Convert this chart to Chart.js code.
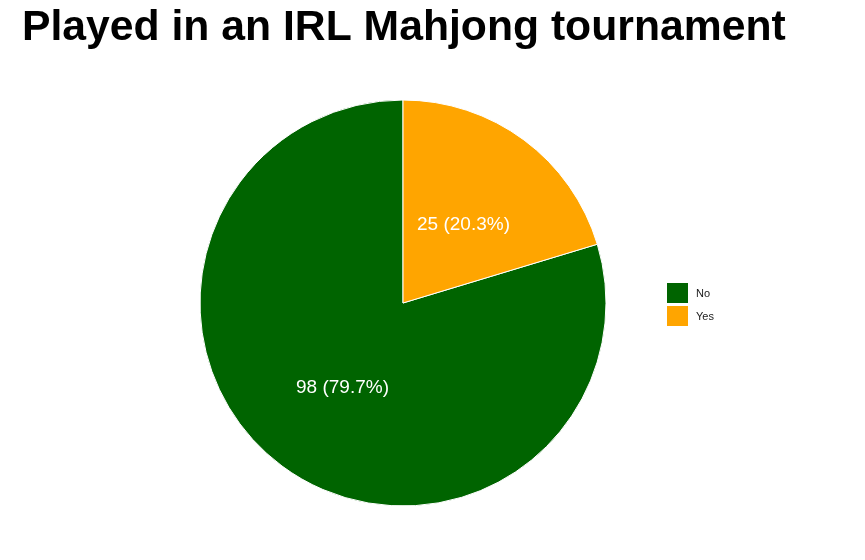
<!DOCTYPE html>
<html>
<head>
<meta charset="utf-8">
<script src="https://cdn.jsdelivr.net/npm/chart.js@4.4.0/dist/chart.umd.min.js"></script>
<style>
    html, body { margin: 0; padding: 0; background: #ffffff; }
    #tournamentChart { display: block; }
</style>
</head>
<body>
<canvas id="tournamentChart" width="865" height="560"></canvas>
<script>
// Chart data
const chartTitle = 'Played in an IRL Mahjong tournament';
const answers = ['No', 'Yes'];
const counts = [98, 25];
const sliceColors = ['#006400', '#FFA500'];

document.addEventListener('DOMContentLoaded', function() {
    const total = counts.reduce((a, b) => a + b, 0);
    // "Yes" starts at 12 o'clock and runs clockwise, so "No" starts after it
    const startAngle = counts[1] / total * 360;

    // Title, slice labels and legend drawn by hand
    const annotate = {
        id: 'annotate',
        afterDraw(chart) {
            const ctx = chart.ctx;
            ctx.save();

            ctx.fillStyle = '#000000';
            ctx.font = 'bold 42.7px "Liberation Sans", Arial, sans-serif';
            ctx.textAlign = 'left';
            ctx.textBaseline = 'alphabetic';
            ctx.fillText(chartTitle, 22, 40);

            const meta = chart.getDatasetMeta(0);
            ctx.font = '19px "Liberation Sans", Arial, sans-serif';
            ctx.fillStyle = '#ffffff';
            ctx.textAlign = 'center';
            ctx.textBaseline = 'middle';
            meta.data.forEach(function(arc, i) {
                const mid = (arc.startAngle + arc.endAngle) / 2;
                const r = arc.outerRadius * 0.5;
                const pct = (counts[i] / total * 100).toFixed(1);
                ctx.fillText(counts[i] + ' (' + pct + '%)',
                    arc.x + Math.cos(mid) * r, arc.y + Math.sin(mid) * r + 3);
            });

            ctx.font = '11px "Liberation Sans", Arial, sans-serif';
            ctx.textAlign = 'left';
            answers.forEach(function(name, i) {
                const y = 283 + i * 23;
                ctx.fillStyle = sliceColors[i];
                ctx.fillRect(667, y, 21, 20);
                ctx.fillStyle = '#1a1a1a';
                ctx.fillText(name, 696, y + 10.5);
            });
            ctx.restore();
        }
    };

    new Chart(document.getElementById('tournamentChart'), {
        type: 'pie',
        data: {
            labels: answers,
            datasets: [{
                data: counts,
                backgroundColor: sliceColors,
                borderColor: '#ffffff',
                borderWidth: 1,
                hoverOffset: 0
            }]
        },
        options: {
            responsive: false,
            animation: false,
            rotation: startAngle,
            radius: 203,
            layout: {
                padding: { top: 100, bottom: 54, left: 200, right: 259 }
            },
            plugins: {
                legend: { display: false },
                tooltip: { enabled: false }
            }
        },
        plugins: [annotate]
    });
});
</script>
</body>
</html>
